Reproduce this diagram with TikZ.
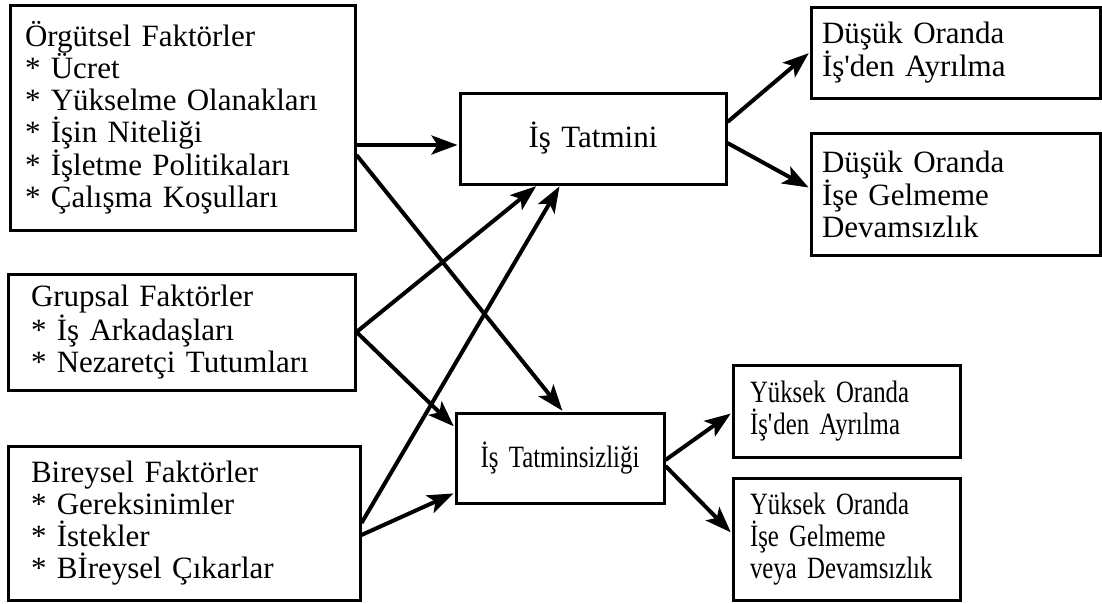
\documentclass[tikz,border=0pt]{standalone}
\usepackage{fontspec}
\setmainfont{Liberation Serif}
\newfontfamily\narrowserif[FakeStretch=0.8]{Liberation Serif}
\usetikzlibrary{arrows.meta}

\begin{document}
\begin{tikzpicture}[x=1pt, y=-1pt, shorten >=1pt]
   \useasboundingbox (0,0) rectangle (1102,603);
   \begin{scope}[every node/.style={draw, line width=3pt, inner ysep=0pt, align=left,
                 font=\fontsize{31}{32}\selectfont}]
    % faktorler
    \node[minimum height=225pt, text width=315pt, inner xsep=15pt] (org) at (182.5,117.5)
      {Örgütsel Faktörler\\{*} Ücret\\{*} Yükselme Olanakları\\{*} İşin Niteliği\\{*} İşletme Politikaları\\{*} Çalışma Koşulları};
    \node[minimum height=116pt, text width=301pt, inner xsep=23pt] (grp) at (181.5,332)
      {Grupsal Faktörler\\{*} İş Arkadaşları\\{*} Nezaretçi Tutumları};
    \node[minimum height=154pt, text width=306pt, inner xsep=23pt] (bir) at (184,523)
      {Bireysel Faktörler\\{*} Gereksinimler\\{*} İstekler\\{*} Bİreysel Çıkarlar};

    % tatmin
    \node[minimum height=91pt, text width=246pt, inner xsep=10pt, align=center] (tat) at (593,138.5)
      {İş Tatmini};
    \node[minimum height=90pt, text width=188pt, inner xsep=10pt, align=center,
          font=\narrowserif\fontsize{31}{32}\selectfont] (tsz) at (560,458)
      {İş Tatminsizliği};

    % sonuclar
    \node[minimum height=91pt, text width=267pt, inner xsep=11pt] (dus1) at (955.5,52.5)
      {Düşük Oranda\\İş\textquotesingle den Ayrılma};
    \node[minimum height=122pt, text width=267pt, inner xsep=11pt] (dus2) at (955.5,194)
      {Düşük Oranda\\İşe Gelmeme\\Devamsızlık};
    \node[minimum height=92pt, text width=193pt, inner xsep=17pt,
          font=\narrowserif\fontsize{31}{32}\selectfont] (yuk1) at (846.5,411)
      {Yüksek Oranda\\İş\textquotesingle den Ayrılma};
    \node[minimum height=122pt, text width=193pt, inner xsep=17pt,
          font=\narrowserif\fontsize{31}{32}\selectfont] (yuk2) at (846.5,539)
      {Yüksek Oranda\\İşe Gelmeme\\veya Devamsızlık};
   \end{scope}
   \begin{scope}[every edge/.style={draw=black, line width=4pt,
                 -{Stealth[length=26pt, width=19pt, inset=6pt]}}]
    \draw ([yshift=-27.5pt]org.east) edge ([yshift=-6.5pt]tat.west);
    \draw ([yshift=-37.5pt]org.east) edge ([xshift=3pt]tsz.north);
    \draw (grp.east) edge ([xshift=-56pt]tat.south);
    \draw (grp.east) edge ([yshift=31pt]tsz.west);
    \draw (bir.east) edge ([xshift=-33pt]tat.south);
    \draw ([yshift=-12pt]bir.east) edge ([yshift=-35pt]tsz.west);
    \draw ([yshift=16.5pt]tat.east) edge (dus1.west);
    \draw ([yshift=-4.5pt]tat.east) edge ([yshift=6pt]dus2.west);
    \draw ([yshift=-2pt]tsz.east) edge ([yshift=-2pt]yuk1.west);
    \draw ([yshift=-8pt]tsz.east) edge ([yshift=6pt]yuk2.west);
   \end{scope}
\end{tikzpicture}
\end{document}
